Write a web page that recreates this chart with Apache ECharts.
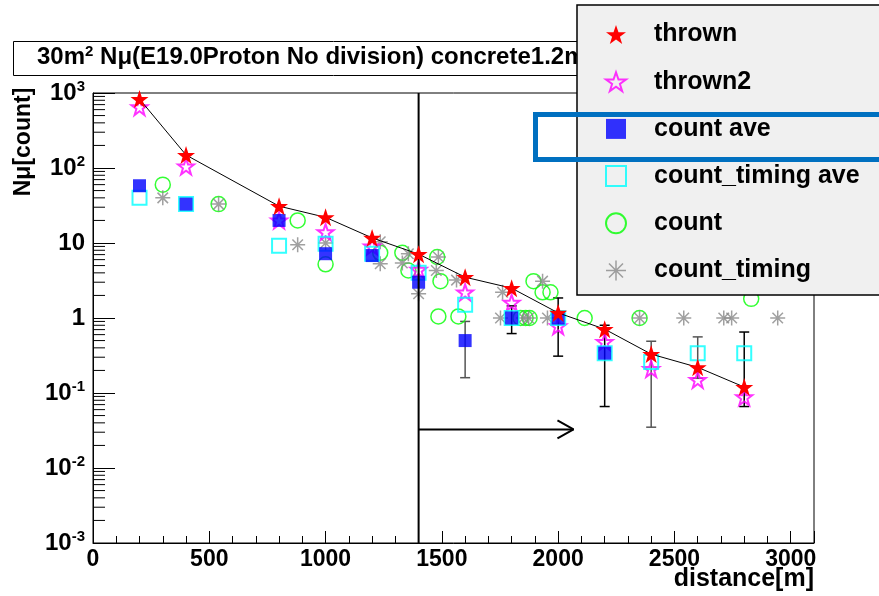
<!DOCTYPE html>
<html>
<head>
<meta charset="utf-8">
<script src="https://cdn.jsdelivr.net/npm/echarts@6/dist/echarts.min.js"></script>
<style>
html, body { margin: 0; padding: 0; background: #fff; }
#chart { width: 879px; height: 596px; }
</style>
</head>
<body>
<div id="chart"></div>
<script>
// distances of the averaged points
var distances = [200, 400, 800, 1000, 1200, 1400, 1600, 1800, 2000, 2200, 2400, 2600, 2800];
var thrown = [830, 149, 31, 22, 11.7, 7.1, 3.5, 2.5, 1.17, 0.71, 0.33, 0.22, 0.12];
var thrown2 = [650, 105, 20, 14, 9, 4.4, 2.2, 1.6, 0.78, 0.48, 0.21, 0.15, 0.088];
var countAve = [58, 33, 20, 7.2, 6.8, 3.0, 0.5, 1.0, 1.0, 0.34, '-', '-', '-'];
var countTimingAve = [40, 33, 9.2, 9.8, 7.2, 4.0, 1.5, 1.0, 1.0, 0.34, 0.26, 0.34, 0.34];

// individual events [distance, count]
var countPts = [[300, 60], [540, 33], [880, 20], [1000, 5.2], [1235, 7.4], [1330, 7.4], [1356, 4.3],
  [1480, 6.5], [1494, 3.1], [1485, 1.05], [1571, 1.05], [1838, 1], [1860, 1], [1877, 1],
  [1894, 3.1], [1933, 2.2], [1967, 2.2], [2114, 1], [2350, 1], [2830, 1.8]];
var countTimingPts = [[300, 40], [540, 33], [880, 9.5], [1000, 10], [1235, 10.4], [1235, 5.3],
  [1330, 5.4], [1356, 7.2], [1400, 2.1], [1476, 4.3], [1485, 6.5], [1563, 3.2], [1761, 2.2],
  [1752, 1], [1851, 1], [1873, 1], [1933, 3.1], [1954, 1], [2350, 1], [2540, 1], [2712, 1],
  [2746, 1], [2944, 1]];

// error bars [distance, low, high]
var errCountAve = [[1800, 0.62, 1.45], [2000, 0.31, 1.85], [2200, 0.066, 0.8], [2800, 0.066, 0.65]];
var errTimingAve = [[1600, 0.16, 0.9], [2400, 0.035, 0.49], [2600, 0.157, 0.56]];

// cut line and arrow
var cutX = [1400, 1400];
var cutY = [0.001, 1000];
var arrowX = [1400, 2066];
var arrowY = [0.0327, 0.0327];
var headX = [1997, 2066, 1997];
var headY = [0.043, 0.0327, 0.0248];

var xTicks = [0, 500, 1000, 1500, 2000, 2500, 3000];
var yMinor = [];
for (var e = -3; e < 3; e++) {
  for (var m = 2; m <= 9; m++) yMinor.push([0, m * Math.pow(10, e)]);
}

var STAR = 'path://M50,2L61.8,36.2L97.6,36.2L68.6,57.4L79.4,91.6L50,70.6L20.6,91.6L31.4,57.4L2.4,36.2L38.2,36.2Z';
var SQUARE = 'path://M0,0L10,0L10,10L0,10Z';
var ASTER = 'path://M0,50L100,50M50,0L50,100M15,15L85,85M85,15L15,85';
var FONT = '"Liberation Sans", Arial, sans-serif';

function pairs(xs, ys) {
  return xs.map(function (x, i) { return [x, ys[i]]; });
}

function errItem(color) {
  return function (params, api) {
    var x = api.value(0);
    var lo = api.coord([x, api.value(1)]);
    var hi = api.coord([x, api.value(2)]);
    var st = { stroke: color, lineWidth: 1.5 };
    return {
      type: 'group',
      children: [
        { type: 'line', shape: { x1: lo[0], y1: lo[1], x2: hi[0], y2: hi[1] }, style: st },
        { type: 'line', shape: { x1: lo[0] - 5, y1: lo[1], x2: lo[0] + 5, y2: lo[1] }, style: st },
        { type: 'line', shape: { x1: hi[0] - 5, y1: hi[1], x2: hi[0] + 5, y2: hi[1] }, style: st }
      ]
    };
  };
}

var chart = echarts.init(document.getElementById('chart'));

var option = {
  animation: false,
  backgroundColor: '#fff',
  grid: { left: 93, right: 65, top: 93, bottom: 53, show: true, borderColor: '#000', borderWidth: 1 },
  xAxis: {
    type: 'value', min: 0, max: 3100, interval: 500,
    axisLine: { lineStyle: { color: '#000', width: 1 } },
    axisTick: { inside: true, length: 12, lineStyle: { color: '#000' } },
    minorTick: { show: true, splitNumber: 5, length: 7, lineStyle: { color: '#000' } },
    splitLine: { show: false },
    axisLabel: {
      color: '#000', fontFamily: FONT, fontWeight: 'bold', fontSize: 23, margin: 5,
      formatter: function (v) { return xTicks.indexOf(v) >= 0 ? String(v) : ''; }
    }
  },
  yAxis: {
    type: 'log', logBase: 10, min: 0.001, max: 1000, splitNumber: 6,
    axisLine: { lineStyle: { color: '#000', width: 1 } },
    axisTick: { inside: true, length: 22, lineStyle: { color: '#000' } },
    splitLine: { show: false },
    axisLabel: {
      color: '#000', fontFamily: FONT, fontWeight: 'bold', fontSize: 24, margin: 8,
      formatter: function (v) {
        var ex = Math.round(Math.log10(v));
        if (ex === 0) return '1';
        if (ex === 1) return '10';
        return '10{sup|' + ex + '}';
      },
      rich: {
        sup: { fontFamily: FONT, fontWeight: 'bold', fontSize: 15, color: '#000', padding: [0, 0, 13, 0] }
      }
    }
  },
  legend: {
    orient: 'vertical', left: 577, top: 5,
    backgroundColor: '#f0f0f0', borderColor: '#000', borderWidth: 1.5,
    padding: [17, 40, 12, 28],
    itemWidth: 20, itemHeight: 20, itemGap: 22.2,
    selectedMode: false, z: 10,
    textStyle: { fontFamily: FONT, fontWeight: 'bold', fontSize: 25, color: '#000', lineHeight: 24, padding: [0, 0, 0, 23] },
    data: [
      { name: 'thrown', icon: STAR, itemStyle: { color: '#ff0000', borderWidth: 0 } },
      { name: 'thrown2', icon: STAR, itemStyle: { color: 'transparent', borderColor: '#ff00ff', borderWidth: 2 } },
      { name: 'count ave', icon: SQUARE, itemStyle: { color: '#0000ff', borderWidth: 0 } },
      { name: 'count_timing ave', icon: SQUARE, itemStyle: { color: 'transparent', borderColor: '#00ffff', borderWidth: 2 } },
      { name: 'count', icon: 'circle', itemStyle: { color: 'transparent', borderColor: '#00ff00', borderWidth: 2 } },
      { name: 'count_timing', icon: ASTER, itemStyle: { color: 'transparent', borderColor: '#888888', borderWidth: 1.5 } }
    ]
  },
  graphic: {
    elements: [
      {
        type: 'rect', left: 13, top: 41, z: 1,
        shape: { width: 640, height: 34 },
        style: { fill: '#fff', stroke: '#000', lineWidth: 1 }
      },
      {
        type: 'text', left: 37, top: 44, z: 2,
        style: {
          text: '30m{sup|2} Nμ(E19.0Proton No division) concrete1.2m',
          fontFamily: FONT, fontWeight: 'bold', fontSize: 24, fill: '#000',
          rich: { sup: { fontFamily: FONT, fontWeight: 'bold', fontSize: 15, fill: '#000', padding: [0, 0, 11, 0] } }
        }
      },
      {
        type: 'text', x: 24, y: 142, rotation: Math.PI / 2, z: 2,
        style: {
          text: 'Nμ[count]', fontFamily: FONT, fontWeight: 'bold', fontSize: 23, fill: '#000',
          align: 'center', verticalAlign: 'middle'
        }
      },
      {
        type: 'text', right: 65, top: 567, z: 2,
        style: { text: 'distance[m]', fontFamily: FONT, fontWeight: 'bold', fontSize: 25, fill: '#000' }
      },
      {
        type: 'rect', left: 533, top: 112, z: 100,
        shape: { width: 360, height: 45 },
        style: { fill: 'none', stroke: '#0070c0', lineWidth: 5 }
      }
    ]
  },
  series: [
    {
      type: 'custom', name: 'yminor', silent: true, clip: false,
      data: yMinor, encode: { x: 0, y: 1 },
      renderItem: function (params, api) {
        var p = api.coord([0, api.value(1)]);
        return { type: 'line', shape: { x1: p[0], y1: p[1], x2: p[0] + 12, y2: p[1] }, style: { stroke: '#000', lineWidth: 1 } };
      }
    },
    {
      type: 'line', name: 'cut', data: pairs(cutX, cutY), symbol: 'none', silent: true,
      lineStyle: { color: '#000', width: 2 }
    },
    {
      type: 'line', name: 'arrow', data: pairs(arrowX, arrowY), symbol: 'none', silent: true,
      lineStyle: { color: '#000', width: 2 }
    },
    {
      type: 'line', name: 'arrowhead', data: pairs(headX, headY), symbol: 'none', silent: true,
      lineStyle: { color: '#000', width: 2 }
    },
    { type: 'custom', name: 'errCount', data: errCountAve, encode: { x: 0, y: [1, 2] }, renderItem: errItem('#000') },
    { type: 'custom', name: 'errTiming', data: errTimingAve, encode: { x: 0, y: [1, 2] }, renderItem: errItem('#555') },
    {
      type: 'scatter', name: 'count', data: countPts, symbol: 'circle', symbolSize: 15,
      itemStyle: { color: 'transparent', borderColor: '#00ff00', borderWidth: 1.5 }
    },
    {
      type: 'scatter', name: 'count_timing', data: countTimingPts, symbol: ASTER, symbolSize: 15,
      itemStyle: { color: 'transparent', borderColor: '#888888', borderWidth: 1.5 }
    },
    {
      type: 'scatter', name: 'thrown2', data: pairs(distances, thrown2), symbol: STAR, symbolSize: 16,
      itemStyle: { color: 'transparent', borderColor: '#ff00ff', borderWidth: 2 }
    },
    {
      type: 'scatter', name: 'count_timing ave', data: pairs(distances, countTimingAve), symbol: SQUARE, symbolSize: 14,
      itemStyle: { color: 'transparent', borderColor: '#00ffff', borderWidth: 2 }
    },
    {
      type: 'scatter', name: 'count ave', data: pairs(distances, countAve), symbol: SQUARE, symbolSize: 13,
      itemStyle: { color: '#0000ff' }
    },
    {
      type: 'line', name: 'thrown', data: pairs(distances, thrown), symbol: STAR, symbolSize: 18,
      showAllSymbol: true,
      lineStyle: { color: '#000', width: 1 },
      itemStyle: { color: '#ff0000' }
    }
  ]
};

chart.setOption(option);
</script>
</body>
</html>
